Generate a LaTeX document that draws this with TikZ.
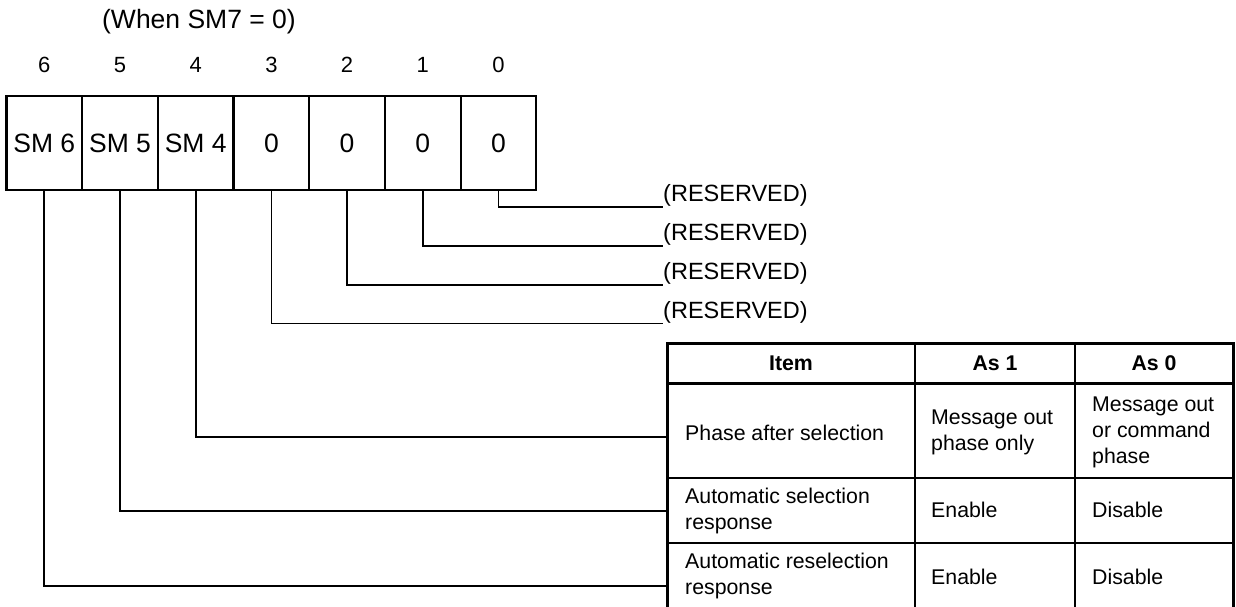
\documentclass[tikz,border=0pt]{standalone}
\usepackage{fontspec}
\setmainfont{Liberation Sans}
\begin{document}
\begin{tikzpicture}[x=1pt,y=-1pt,
  cell/.style={draw, line width=2.2pt, minimum width=75.7pt, minimum height=94pt, inner sep=0pt, font=\fontsize{26.5}{30}\selectfont},
  bitno/.style={font=\fontsize{22}{25}\selectfont, inner sep=0pt},
  conn/.style={line width=1.8pt},
  resv/.style={anchor=south west, inner sep=0pt, font=\fontsize{23.5}{28}\selectfont},
  tt/.style={font=\fontsize{21.3}{26}\selectfont, inner sep=0pt, align=left, anchor=west},
  th/.style={font=\fontsize{21.3}{26}\selectfont\bfseries, inner sep=0pt},
  tborder/.style={line width=3pt},
  trule/.style={line width=2pt},
]
\useasboundingbox (0,0) rectangle (1236,606);
\node[font=\fontsize{26.5}{30}\selectfont, inner sep=0pt] (title) at (199,22) {(When SM7 = 0)};
% bit numbers
\node[bitno] (b6) at (44.3,65) {6};
\node[bitno] (b5) at (120,65) {5};
\node[bitno] (b4) at (195.7,65) {4};
\node[bitno] (b3) at (271.4,65) {3};
\node[bitno] (b2) at (347.1,65) {2};
\node[bitno] (b1) at (422.8,65) {1};
\node[bitno] (b0) at (498.5,65) {0};
% register cells
\node[cell] (c6) at (44.3,143) {SM 6};
\node[cell] (c5) at (120,143) {SM 5};
\node[cell] (c4) at (195.7,143) {SM 4};
\node[cell] (c3) at (271.4,143) {0};
\node[cell] (c2) at (347.1,143) {0};
\node[cell] (c1) at (422.8,143) {0};
\node[cell] (c0) at (498.5,143) {0};
% reserved labels
\node[resv] (r0) at (663,207) {(RESERVED)};
\node[resv] (r1) at (663,246) {(RESERVED)};
\node[resv] (r2) at (663,285) {(RESERVED)};
\node[resv] (r3) at (663,323.5) {(RESERVED)};
\draw[conn] (c0.south) |- (r0.south west);
\draw[conn] (c1.south) |- (r1.south west);
\draw[conn] (c2.south) |- (r2.south west);
\draw[conn] (c3.south) |- (r3.south west);
% table
\draw[tborder] (667,620) -- (667,343) -- (1233,343) -- (1233,620);
\draw[tborder] (667,383) -- (1233,383);
\draw[trule] (667,478) -- (1233,478);
\draw[trule] (667,543) -- (1233,543);
\draw[line width=2.4pt] (915,343) -- (915,620);
\draw[line width=2.4pt] (1075,343) -- (1075,620);
\node[th] (hItem) at (791,363) {Item};
\node[th] (hAs1) at (995,363) {As 1};
\node[th] (hAs0) at (1154,363) {As 0};
\node[tt] (p1) at (685,433) {Phase after selection};
\node[tt] (p1a) at (931,432.5) {Message out\\phase only};
\node[tt] (p1b) at (1092,432) {Message out\\or command\\phase};
\node[tt] (p2) at (685,510.5) {Automatic selection\\response};
\node[tt] (p2a) at (931,510) {Enable};
\node[tt] (p2b) at (1092,510) {Disable};
\node[tt] (p3) at (685,576) {Automatic reselection\\response};
\node[tt] (p3a) at (931,577) {Enable};
\node[tt] (p3b) at (1092,577) {Disable};
% connectors to table rows
\coordinate (e4) at (667,437);
\coordinate (e5) at (667,511);
\coordinate (e6) at (667,586);
\draw[conn] (c4.south) |- (e4);
\draw[conn] (c5.south) |- (e5);
\draw[conn] (c6.south) |- (e6);
\end{tikzpicture}
\end{document}
